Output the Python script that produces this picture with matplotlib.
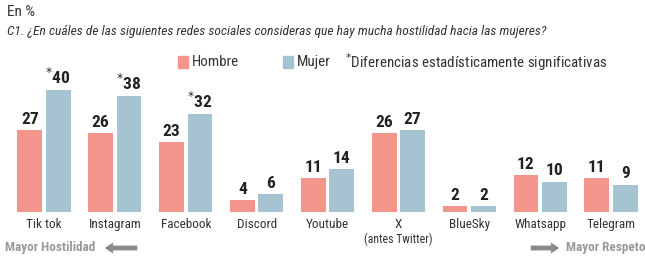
import matplotlib.pyplot as plt
import numpy as np

plt.rcParams['font.family'] = ['Roboto Condensed', 'Liberation Sans Narrow', 'DejaVu Sans']

redes = ['Tik tok', 'Instagram', 'Facebook', 'Discord', 'Youtube', 'X', 'BlueSky', 'Whatsapp', 'Telegram']
hombre = [27, 26, 23, 4, 11, 26, 2, 12, 11]
mujer = [40, 38, 32, 6, 14, 27, 2, 10, 9]
sig_mujer = [True, True, True, False, False, False, False, False, False]

c_h = '#f4958b'
c_m = '#a6c3d2'

fig = plt.figure(figsize=(6.45, 2.58), dpi=100)
ax = fig.add_axes([0, 0, 1, 1])
x = np.arange(len(redes))
px = 70.875
ax.set_xlim(-44 / px, (645 - 44) / px)
ax.set_ylim(-46 / 3.05, (258 - 46) / 3.05)
ax.axis('off')

w = 0.35
ax.bar(x - 0.2, hombre, w, color=c_h)
ax.bar(x + 0.2, mujer, w, color=c_m)

for i in range(len(redes)):
    ax.text(x[i] - 0.2, hombre[i] + 1, str(hombre[i]), ha='center', va='bottom',
            fontsize=12.5, fontweight='bold', color='#222222')
    lab = str(mujer[i])
    if sig_mujer[i]:
        lab = '$^{*}$' + lab
    ax.text(x[i] + 0.2, mujer[i] + 1, lab, ha='center', va='bottom',
            fontsize=12.5, fontweight='bold', color='#222222')
    ax.text(x[i], -2.0, redes[i], ha='center', va='top', fontsize=9.5, color='#333333')
ax.text(x[5], -6.9, '(antes Twitter)', ha='center', va='top', fontsize=8.5, color='#333333')

# header
fig.text(7 / 645, 1 - 12 / 258, 'En %', fontsize=11, va='center', color='#333333')
fig.text(7 / 645, 1 - 31 / 258,
         'C1. ¿En cuáles de las siguientes redes sociales consideras que hay mucha hostilidad hacia las mujeres?',
         fontsize=9.7, style='italic', va='center', color='#333333')

# legend
ly = 1 - 62 / 258
fig.patches.append(plt.Rectangle((178 / 645, ly - 6 / 258), 10 / 645, 12 / 258,
                                 transform=fig.transFigure, color=c_h))
fig.text(192 / 645, ly, 'Hombre', fontsize=10.8, va='center', color='#333333')
fig.patches.append(plt.Rectangle((283 / 645, ly - 6 / 258), 10 / 645, 12 / 258,
                                 transform=fig.transFigure, color=c_m))
fig.text(297 / 645, ly, 'Mujer', fontsize=10.8, va='center', color='#333333')
fig.text(345 / 645, ly, '$^{*}$Diferencias estadísticamente significativas', fontsize=10.8,
         va='center', color='#333333')

# bottom arrows
by = 1 - 248 / 258
fig.text(5 / 645, by, 'Mayor Hostilidad', fontsize=9.5, fontweight='bold', va='center', color='#9a9a9a')
fig.text(566 / 645, by, 'Mayor Respeto', fontsize=9.5, fontweight='bold', va='center', color='#9a9a9a')
ax.annotate('', xy=(102 / 645, by), xytext=(140 / 645, by), xycoords='figure fraction',
            arrowprops=dict(arrowstyle='simple,head_width=0.8,head_length=0.6,tail_width=0.35',
                            color='#8a8a8a', lw=0))
ax.annotate('', xy=(562 / 645, by), xytext=(528 / 645, by), xycoords='figure fraction',
            arrowprops=dict(arrowstyle='simple,head_width=0.8,head_length=0.6,tail_width=0.35',
                            color='#8a8a8a', lw=0))

fig.savefig('out.png', dpi=100, facecolor='white')
